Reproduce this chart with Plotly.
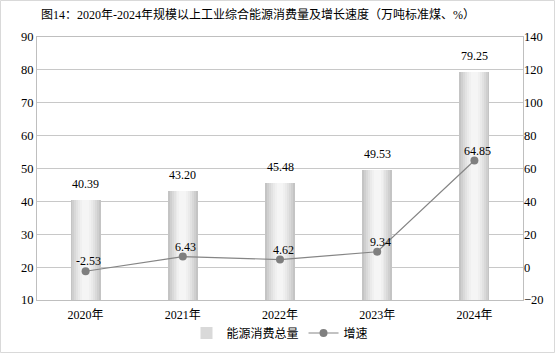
import plotly.graph_objects as go

years = ["2020年", "2021年", "2022年", "2023年", "2024年"]
consumption = [40.39, 43.20, 45.48, 49.53, 79.25]
growth = [-2.53, 6.43, 4.62, 9.34, 64.85]
title = "图14：2020年-2024年规模以上工业综合能源消费量及增长速度（万吨标准煤、%）"

FONT = "Liberation Serif, Times New Roman, Noto Sans CJK SC, serif"
CJK = "Noto Sans CJK SC, Liberation Serif, sans-serif"

fig = go.Figure()

# cylinder-like gradient: overlaid bars of decreasing width, lighter toward center
layers = [(0.31, "#c4c4c4"), (0.27, "#cfcfcf"), (0.23, "#d9d9d9"), (0.19, "#e2e2e2"),
          (0.15, "#eaeaea"), (0.11, "#f0f0f0"), (0.07, "#f5f5f5")]
for i, (w, c) in enumerate(layers):
    fig.add_trace(go.Bar(
        x=years, y=consumption, width=w, marker=dict(color=c, line=dict(width=0)),
        name="能源消费总量", showlegend=(i == 2), yaxis="y", hoverinfo="skip" if i else None,
    ))

fig.add_trace(go.Scatter(
    x=years, y=growth, yaxis="y2", mode="lines+markers", name="增速",
    line=dict(color="#858585", width=1.2), marker=dict(color="#7f7f7f", size=8),
))

for x, v in zip(years, consumption):
    fig.add_annotation(x=x, y=v, yref="y", text=f"{v:.2f}", showarrow=False,
                       yshift=16, font=dict(family=FONT, size=12, color="#000"))
for x, v in zip(years, growth):
    fig.add_annotation(x=x, y=v, yref="y2", text=f"{v:.2f}", showarrow=False,
                       yshift=10, xshift=3, font=dict(family=FONT, size=12, color="#000"))

L, R, T, B, W, H = 37, 33, 37, 54, 556, 354
pw, ph = W - L - R, H - T - B
fig.add_shape(type="rect", xref="paper", yref="paper",
              x0=(-L + 0.5) / pw, x1=(W - L - 1.5) / pw, y0=(-B + 1.5) / ph, y1=(ph + T - 0.5) / ph,
              line=dict(color="#d9d9d9", width=1), layer="below")

fig.update_layout(
    width=W, height=H, margin=dict(l=L, r=R, t=T, b=B, autoexpand=False),
    paper_bgcolor="white", plot_bgcolor="white",
    barmode="overlay", bargap=0,
    title=dict(text=title, x=258 / W, xanchor="center", y=1 - 15 / H, yanchor="middle",
               font=dict(family=FONT, size=12, color="#000")),
    xaxis=dict(showline=True, linecolor="#bfbfbf", mirror=True, ticks="",
               ticklabelstandoff=4,
               tickfont=dict(family=FONT, size=12, color="#000"), showgrid=False),
    yaxis=dict(range=[10, 90], dtick=10, showgrid=True, gridcolor="#c8c8c8",
               showline=True, linecolor="#bfbfbf", mirror=True, zeroline=False,
               tickfont=dict(family=FONT, size=12.5, color="#000"), ticks=""),
    yaxis2=dict(range=[-20, 140], dtick=20, overlaying="y", side="right", showgrid=False,
                zeroline=False, tickfont=dict(family=FONT, size=12.5, color="#000"), ticks=""),
    legend=dict(orientation="h", x=0.5, xanchor="center", y=-(333 - T - ph) / ph, yanchor="middle",
                font=dict(family=CJK, size=12, color="#000"), itemwidth=30,
                bgcolor="rgba(0,0,0,0)"),
)

fig.write_html("out.html")
